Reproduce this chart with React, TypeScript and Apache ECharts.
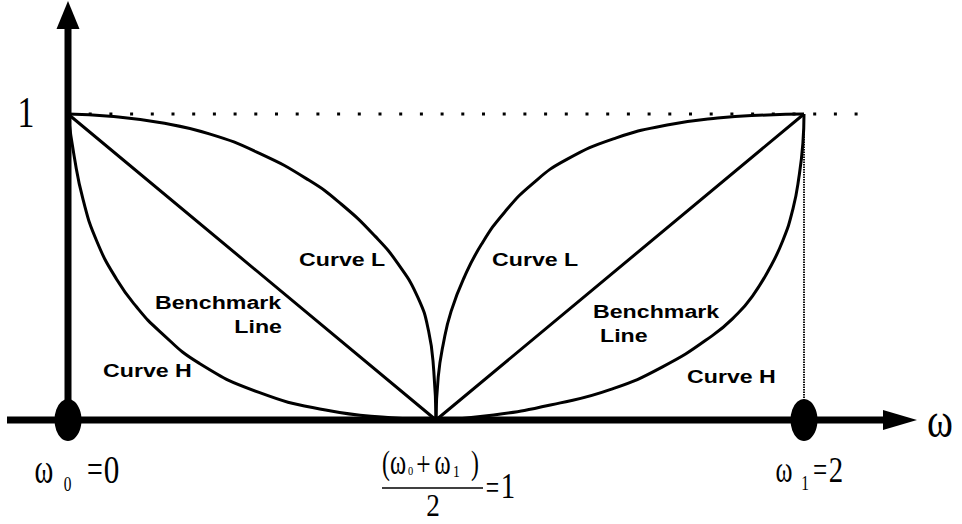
import React, { useEffect, useRef } from "react";
import * as echarts from "echarts";

// ---- data ----
const benchmarkLine: number[][] = [[0, 1], [1, 0], [2, 1]];
const curveLLeft: number[][] = [
  [0, 1], [0.114, 0.993], [0.249, 0.972], [0.384, 0.935], [0.519, 0.872], [0.654, 0.784],
  [0.743, 0.705], [0.835, 0.6], [0.897, 0.51], [0.951, 0.4], [0.98, 0.29], [0.994, 0.16], [1, 0],
];
const curveLRight: number[][] = [
  [1, 0], [1.006, 0.14], [1.02, 0.25], [1.041, 0.355], [1.077, 0.467], [1.124, 0.575], [1.187, 0.68],
  [1.262, 0.772], [1.353, 0.85], [1.49, 0.922], [1.628, 0.964], [1.765, 0.987], [1.901, 0.997], [2, 1],
];
const curveHLeft: number[][] = [
  [0, 1], [0.017, 0.86], [0.041, 0.72], [0.078, 0.585], [0.132, 0.46], [0.186, 0.37], [0.249, 0.29],
  [0.357, 0.185], [0.519, 0.09], [0.7, 0.033], [0.878, 0.007], [1, 0],
];
const curveHRight: number[][] = [
  [1, 0], [1.157, 0.016], [1.338, 0.056], [1.475, 0.1], [1.613, 0.172], [1.75, 0.275], [1.82, 0.348],
  [1.86, 0.405], [1.904, 0.49], [1.942, 0.585], [1.97, 0.69], [1.987, 0.8], [1.997, 0.905], [2, 1],
];
const levelLine: number[][] = [[0, 1], [2.18, 1]];
const dropLine: number[][] = [[2, 1], [2, 0.066]];
const endpoints: number[][] = [[0, 0], [2, 0]];

const xMin = 0;
const xMax = 2.2;
const yMin = 0;
const yMax = 1;

const SERIF = "'Liberation Serif', 'Times New Roman', serif";
const SANS = "'Liberation Sans', Arial, sans-serif";

function txt(
  text: string,
  x: number,
  baseline: number,
  fs: number,
  sx: number,
  family: string,
  weight: string = "normal",
  align: string = "center"
) {
  return {
    type: "text",
    x,
    y: baseline - 0.34 * fs,
    scaleX: sx,
    style: {
      text,
      fontSize: fs,
      fontFamily: family,
      fontWeight: weight,
      fill: "#000",
      align,
      verticalAlign: "middle",
      textAlign: align,
      textVerticalAlign: "middle",
    },
  };
}

export default function App() {
  const ref = useRef<HTMLDivElement>(null);
  useEffect(() => {
    if (!ref.current) return;
    const chart = echarts.init(ref.current, null, { renderer: "svg" });
    const curveStyle = { color: "#000", width: 3 };
    const SM = 0.5;
    chart.setOption({
      animation: false,
      backgroundColor: "#fff",
      grid: { left: 68, width: 809.6, top: 114, height: 306 },
      xAxis: { type: "value", min: xMin, max: xMax, show: false },
      yAxis: { type: "value", min: yMin, max: yMax, show: false },
      series: [
        { type: "line", data: curveLLeft, smooth: SM, symbol: "none", lineStyle: curveStyle, clip: false, z: 3 },
        { type: "line", data: curveLRight, smooth: SM, symbol: "none", lineStyle: curveStyle, clip: false, z: 3 },
        { type: "line", data: curveHLeft, smooth: SM, symbol: "none", lineStyle: curveStyle, clip: false, z: 3 },
        { type: "line", data: curveHRight, smooth: SM, symbol: "none", lineStyle: curveStyle, clip: false, z: 3 },
        { type: "line", data: benchmarkLine, symbol: "none", lineStyle: curveStyle, clip: false, z: 3 },
        {
          type: "line", data: levelLine, symbol: "none", clip: false, z: 2,
          lineStyle: { color: "#000", width: 3, type: [3, 17.7], cap: "butt" },
        },
        {
          type: "line", data: dropLine, symbol: "none", clip: false, z: 2,
          lineStyle: { color: "#111", width: 2, type: [1.5, 1], cap: "butt" },
        },
        {
          type: "scatter", data: endpoints, symbol: "circle", symbolSize: [27, 42],
          itemStyle: { color: "#000", opacity: 1 }, clip: false, z: 6,
        },
      ],
    });

    const [ox, oy] = chart.convertToPixel({ gridIndex: 0 }, [0, 0]) as number[];

    const els: any[] = [];
    // axes
    els.push({ type: "line", shape: { x1: ox, y1: oy, x2: ox, y2: 28 }, style: { stroke: "#000", lineWidth: 7 } });
    els.push({ type: "polygon", shape: { points: [[ox, 1], [ox - 11.5, 29], [ox + 11.5, 29]] }, style: { fill: "#000" } });
    els.push({ type: "line", shape: { x1: 7, y1: oy, x2: 885, y2: oy }, style: { stroke: "#000", lineWidth: 7 } });
    els.push({ type: "polygon", shape: { points: [[883, oy - 10], [917, oy], [883, oy + 10]] }, style: { fill: "#000" } });

    // axis labels
    els.push(txt("1", 26, 128, 45, 0.75, SERIF));
    els.push(txt("ω", 940, 437, 48, 0.82, SERIF));

    // ω0=0
    els.push(txt("ω", 44, 483, 42, 0.68, SERIF));
    els.push(txt("0", 67.5, 491, 22, 0.7, SERIF));
    els.push(txt("=", 95, 483, 40, 0.7, SERIF));
    els.push(txt("0", 111.5, 484, 39, 0.8, SERIF));

    // ω1=2
    els.push(txt("ω", 784, 482, 38, 0.68, SERIF));
    els.push(txt("1", 805, 490, 22, 0.7, SERIF));
    els.push(txt("=", 820, 482, 36, 0.7, SERIF));
    els.push(txt("2", 836, 482, 36, 0.8, SERIF));

    // (ω0+ω1)/2 = 1
    els.push(txt("(", 386, 474, 34, 0.7, SERIF));
    els.push(txt("ω", 398, 475, 36, 0.68, SERIF));
    els.push(txt("0", 410.5, 476, 13, 0.8, SERIF));
    els.push(txt("+", 423.5, 475, 34, 0.75, SERIF));
    els.push(txt("ω", 442.5, 475, 36, 0.68, SERIF));
    els.push(txt("1", 456.5, 477, 17, 0.8, SERIF));
    els.push(txt(")", 475, 474, 34, 0.7, SERIF));
    els.push({ type: "line", shape: { x1: 382, y1: 488, x2: 483, y2: 488 }, style: { stroke: "#000", lineWidth: 1.5 } });
    els.push(txt("2", 433, 516, 32, 0.85, SERIF));
    els.push(txt("=", 492.5, 499, 34, 0.7, SERIF));
    els.push(txt("1", 508, 498, 36, 0.8, SERIF));

    // curve labels
    const SX = 1.22;
    els.push(txt("Curve L", 299, 266, 19, SX, SANS, "bold", "left"));
    els.push(txt("Benchmark", 155, 309, 19, SX, SANS, "bold", "left"));
    els.push(txt("Line", 282, 333, 19, SX, SANS, "bold", "right"));
    els.push(txt("Curve H", 103, 377, 19, SX, SANS, "bold", "left"));
    els.push(txt("Curve L", 492, 266, 19, SX, SANS, "bold", "left"));
    els.push(txt("Benchmark", 593, 318, 19, SX, SANS, "bold", "left"));
    els.push(txt("Line", 600, 342, 19, SX, SANS, "bold", "left"));
    els.push(txt("Curve H", 687, 383, 19, SX, SANS, "bold", "left"));

    chart.setOption({ graphic: { elements: els.map((e) => ({ ...e, z: 4 })) } });

    return () => chart.dispose();
  }, []);
  return (
    <div
      ref={ref}
      style={{ position: "absolute", left: 0, top: 0, width: 962, height: 524, background: "#fff" }}
    />
  );
}
